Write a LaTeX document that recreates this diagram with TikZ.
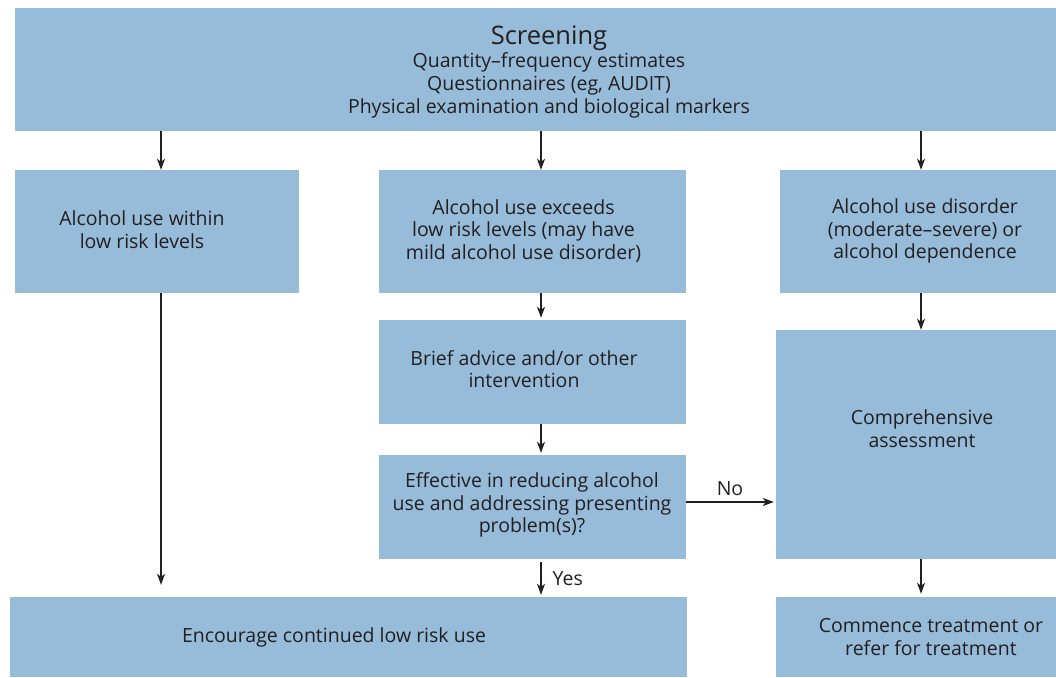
\documentclass[tikz,border=0pt]{standalone}
\usepackage{fontspec}
\setmainfont{Open Sans}
\usetikzlibrary{arrows.meta,calc}
\definecolor{boxblue}{HTML}{96BCDA}
\definecolor{ink}{HTML}{231F20}
\tikzset{
  box/.style={fill=boxblue, draw=none, inner sep=0pt, anchor=center},
  txt/.style={text=ink, align=center, font=\fontsize{19.5}{22.7}\selectfont, inner sep=0pt},
  lbl/.style={text=ink, font=\fontsize{19.5}{22.7}\selectfont, inner sep=0pt},
  arr/.style={draw=ink, line width=1.3pt, -{Stealth[length=11pt,width=8pt,inset=3pt]}}
}
\begin{document}
\begin{tikzpicture}[x=1pt,y=-1pt]
\useasboundingbox (0,0) rectangle (1056,677);
% boxes
\node[box, minimum width=1041pt, minimum height=123pt] (scr) at (535.5,69.5) {};
\node[box, minimum width=284pt, minimum height=123pt] (low) at (157,231.5) {};
\node[box, minimum width=307pt, minimum height=123pt] (exc) at (532.5,231.5) {};
\node[box, minimum width=276pt, minimum height=123pt] (dis) at (918,231.5) {};
\node[box, minimum width=307pt, minimum height=104pt] (brief) at (532.5,372) {};
\node[box, minimum width=307pt, minimum height=104pt] (eff) at (532.5,507) {};
\node[box, minimum width=280pt, minimum height=229pt] (comp) at (916,444.5) {};
\node[box, minimum width=677pt, minimum height=80pt] (enc) at (348.5,637) {};
\node[box, minimum width=280pt, minimum height=80pt] (comm) at (916,637) {};
% texts
\node[txt] (tscr) at (549,72) {{\fontsize{25.5}{27}\selectfont Screening}\\Quantity\textendash frequency estimates\\Questionnaires (eg, AUDIT)\\Physical examination and biological markers};
\node[txt] (tlow) at (142,230) {Alcohol use within\\low risk levels};
\node[txt] (texc) at (523.5,231) {Alcohol use exceeds\\low risk levels (may have\\mild alcohol use disorder)};
\node[txt] (tdis) at (925,231) {Alcohol use disorder\\(moderate\textendash severe) or\\alcohol dependence};
\node[txt] (tbrief) at (524,369) {Brief advice and/or other\\intervention};
\node[txt] (teff) at (532,505) {Effective in reducing alcohol\\use and addressing presenting\\problem(s)?};
\node[txt] (tcomp) at (922,429) {Comprehensive\\assessment};
\node[txt] (tenc) at (334,637.5) {Encourage continued low risk use};
\node[txt] (tcomm) at (931,637) {Commence treatment or\\refer for treatment};
% x positions
\coordinate (xa) at (161,0);
\coordinate (xb) at (541,0);
\coordinate (xc) at (921,0);
\coordinate (yn) at (0,502);
% connectors
\draw[arr] (scr.south -| xa) -- (low.north -| xa);
\draw[arr] (scr.south -| xb) -- (exc.north -| xb);
\draw[arr] (scr.south -| xc) -- (dis.north -| xc);
\draw[arr] (low.south -| xa) -- ([yshift=12pt]enc.north -| xa);
\draw[arr] (exc.south -| xb) -- ([yshift=2pt]brief.north -| xb);
\draw[arr] (brief.south -| xb) -- ([yshift=2pt]eff.north -| xb);
\draw[arr] ([yshift=-3pt]eff.south -| xb) -- ([yshift=2pt]enc.north -| xb) node[lbl, midway, right=11pt] (yes) {Yes};
\draw[arr] (eff.east |- yn) -- ([xshift=-2pt]comp.west |- yn) node[lbl, midway, above=6pt] (no) {No};
\draw[arr] (dis.south -| xc) -- (comp.north -| xc);
\draw[arr] (comp.south -| xc) -- ([yshift=3pt]comm.north -| xc);
\end{tikzpicture}
\end{document}
